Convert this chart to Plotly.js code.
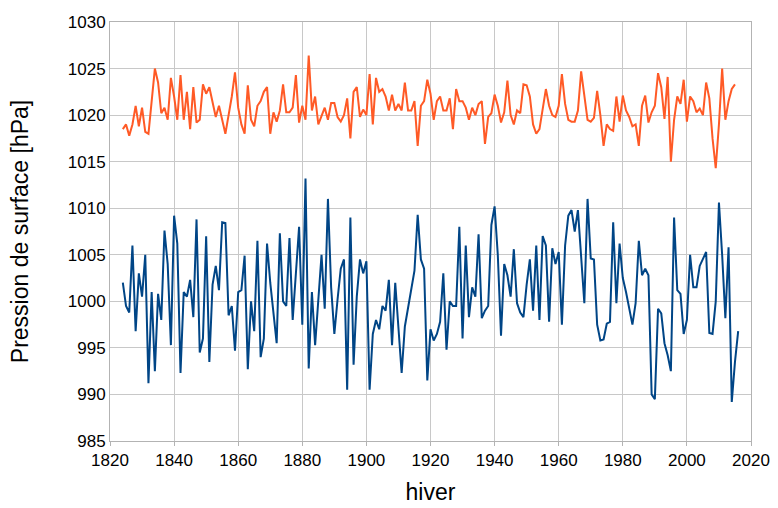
<!DOCTYPE html>
<html>
<head>
<meta charset="utf-8">
<script src="https://cdn.plot.ly/plotly-3.0.1.min.js"></script>
<style>html,body{margin:0;padding:0;background:#fff}#myPlot{width:778px;height:508px}</style>
</head>
<body>
<div id="myPlot"></div>
<script>
var first_year = 1824;

var pressure_low = [1002,999.5,998.8,1006,996.8,1003,1000.5,1005,991.2,1001,992.5,1000.8,998,1007.6,1004,995.3,1009.2,1006.2,992.3,1001,1000.5,1002.3,998.3,1008.8,994.5,996,1007,993.5,1001.8,1003.8,1001.2,1008.5,1008.4,998.5,999.5,994.7,1001,1001.2,1004.9,992.7,1000,996.8,1006.5,994,996,1006.2,1002,998.5,995.5,1007.3,1000,999.5,1006.8,998,1002.5,1008,997.5,1013.2,992.8,1001,995.3,1000.5,1005,999.2,1011,1001.5,996.5,1000.2,1003.5,1004.5,990.5,1009,993.2,1000.5,1004.5,1003,1004.3,990.5,996.5,998,997,999.5,999,1002.3,995.3,1002,997,992.3,997.3,999.2,1001.5,1003.3,1009.3,1004.5,1003.5,991.5,997,995.8,996.5,997.8,1003,994.8,1000,999.5,999.5,1008,996,1006,998.3,1001.5,1000.5,1007.2,998.2,999,999.5,1008.2,1010.2,1005,996.3,1004,1002.8,1000.5,1005.6,999.8,998.8,998.3,1001.8,1004.5,999,1006,998,1007,1006,997.8,1005.7,1004,1005.3,997.5,1006,1009.2,1009.8,1007.5,1009.8,1004.5,999.8,1011,1004.6,1004.5,997.5,995.8,995.9,997.6,997.8,1008.5,999.8,1006.2,1002.5,1001,999.3,997.5,999.8,1006.5,1002.8,1003.5,1002.8,990,989.5,999.2,998.7,995.5,994.2,992.5,1009,1001.2,1000.8,996.5,998,1005,1001.5,1001.5,1003.8,1004.5,1005.3,996.6,996.5,1000,1010.6,1005,998.2,1005.8,989.2,993.5,996.8];

var pressure_high = [1018.5,1019,1017.8,1019,1021,1018.8,1020.8,1018.2,1018,1021.5,1025,1023.5,1020.2,1020.8,1019.5,1024,1022,1019.5,1024.3,1019.5,1022.5,1018.5,1023,1019.2,1019.5,1023.3,1022.3,1023,1021.5,1019.8,1021,1019.5,1018,1020,1022,1024.6,1020.8,1019,1018,1023.2,1019.5,1018.8,1021,1021.5,1022.5,1023,1018,1020.3,1019.3,1020.5,1023.3,1020.3,1020.3,1020.8,1024.3,1019.2,1021,1019.5,1026.4,1020.5,1022,1019,1019.8,1020.8,1019.5,1021.3,1021.3,1019.8,1019.3,1020,1021.8,1017.5,1022.5,1023,1019.8,1020.6,1020,1024.4,1019,1024,1022.5,1022.8,1022,1020.5,1022.2,1020.5,1021.2,1020.5,1023.5,1020.5,1020.5,1021.5,1016.7,1021,1021.5,1023.8,1022.3,1019.5,1021.5,1022,1020.5,1020.5,1021.8,1018.5,1022.8,1021.5,1021.5,1020.8,1019.5,1020.8,1020,1021.2,1021.5,1016.9,1019.8,1020.2,1022.2,1021,1019.2,1020.3,1023.7,1020,1019,1020.5,1020.2,1023.3,1023.2,1022,1019,1018,1018.5,1020.5,1022.8,1021,1020,1019.8,1021,1024.4,1021.2,1019.5,1019.3,1019.3,1020.5,1024.7,1022,1019.5,1019.3,1019.7,1022.6,1020,1016.7,1019,1018.5,1018.3,1022,1019.3,1022.1,1020.5,1019.8,1018.8,1019,1016.7,1021,1022.1,1019.2,1020.3,1021,1024.5,1023,1019.6,1024.1,1015,1019.5,1022,1021.2,1023.8,1019.3,1022,1021.5,1020.3,1020.7,1020,1023.5,1021.8,1017.5,1014.3,1019,1025,1019.5,1021.5,1022.8,1023.3];

function years(n){
  var out = [];
  for(var i = 0; i < n; i++){ out.push(first_year + i); }
  return out;
}

var traces = [
  { x: years(pressure_high.length), y: pressure_high, type: 'scatter', mode: 'lines',
    line: { color: '#ff5a26', width: 2 }, name: 'haut' },
  { x: years(pressure_low.length), y: pressure_low, type: 'scatter', mode: 'lines',
    line: { color: '#004586', width: 2 }, name: 'bas' }
];

var layout = {
  width: 778, height: 508,
  margin: { l: 110, r: 27, t: 22, b: 67 },
  showlegend: false,
  paper_bgcolor: '#fff', plot_bgcolor: '#fff',
  font: { family: 'Liberation Sans', size: 17, color: '#000' },
  xaxis: {
    range: [1820, 2020], dtick: 20, tick0: 1820,
    showgrid: true, gridcolor: '#c8c8c8', zeroline: false,
    showline: true, linecolor: '#b3b3b3', mirror: true,
    ticks: 'outside', ticklen: 4, tickcolor: '#b3b3b3',
    title: { text: 'hiver', font: { size: 23 }, standoff: 14 }
  },
  yaxis: {
    range: [985, 1030], dtick: 5,
    showgrid: true, gridcolor: '#c8c8c8', zeroline: false,
    showline: true, linecolor: '#b3b3b3', mirror: true,
    title: { text: 'Pression de surface [hPa]', font: { size: 23 }, standoff: 32 }
  }
};

Plotly.newPlot('myPlot', traces, layout, { displayModeBar: false });
</script>
</body>
</html>
